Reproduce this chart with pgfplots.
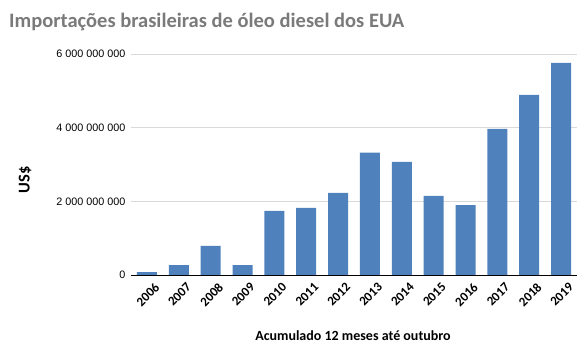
\documentclass[border=0pt]{standalone}
\usepackage{pgfplots}
\pgfplotsset{compat=1.18}
\usepackage{fontspec}
\setmainfont{Carlito}
\newfontfamily\arialfont{Liberation Sans}
\definecolor{barblue}{HTML}{4F81BD}
\definecolor{titlegray}{HTML}{7A7A7A}
\definecolor{gridgray}{HTML}{D9D9D9}
\begin{document}
\begin{tikzpicture}
\useasboundingbox (0pt,0pt) rectangle (587pt,351pt);
\node[anchor=west,font=\bfseries\fontsize{20.5}{22}\selectfont,text=titlegray,inner sep=0] at (9pt,329pt) {Importações brasileiras de óleo diesel dos EUA};
\node[rotate=90,font=\bfseries\fontsize{16.5}{18}\selectfont,inner sep=0] at (25pt,171pt) {US\$};
\node[font=\bfseries\fontsize{14}{16}\selectfont,inner sep=0] at (353pt,15pt) {Acumulado 12 meses até outubro};
\begin{axis}[
  at={(131pt,76pt)}, anchor=south west,
  scale only axis, width=446pt, height=221pt,
  ybar, bar width=20pt,
  xmin=-0.5, xmax=13.5, ymin=0, ymax=6000000000,
  xtick=data,
  xticklabels={2006,2007,2008,2009,2010,2011,2012,2013,2014,2015,2016,2017,2018,2019},
  x tick label style={xshift=7pt, yshift=-7pt, rotate=45, anchor=north east, font=\bfseries\fontsize{13}{15}\selectfont, inner sep=0pt},
  ytick={0,2000000000,4000000000,6000000000},
  yticklabels={0,2 000 000 000,4 000 000 000,6 000 000 000},
  y tick label style={font=\arialfont\fontsize{10.8}{12}\selectfont, xshift=-2pt},
  scaled y ticks=false,
  major tick length=0pt,
  ymajorgrids, grid style={gridgray, line width=0.8pt},
  axis x line*=bottom, axis y line*=left,
  y axis line style={draw=none},
  x axis line style={black, line width=0.8pt, -},
  clip=false,
]
\addplot[fill=barblue, draw=none] coordinates {
(0,80000000) (1,270000000) (2,790000000) (3,270000000) (4,1740000000)
(5,1820000000) (6,2230000000) (7,3320000000) (8,3070000000) (9,2150000000)
(10,1900000000) (11,3970000000) (12,4890000000) (13,5760000000)};
\end{axis}
\end{tikzpicture}
\end{document}
